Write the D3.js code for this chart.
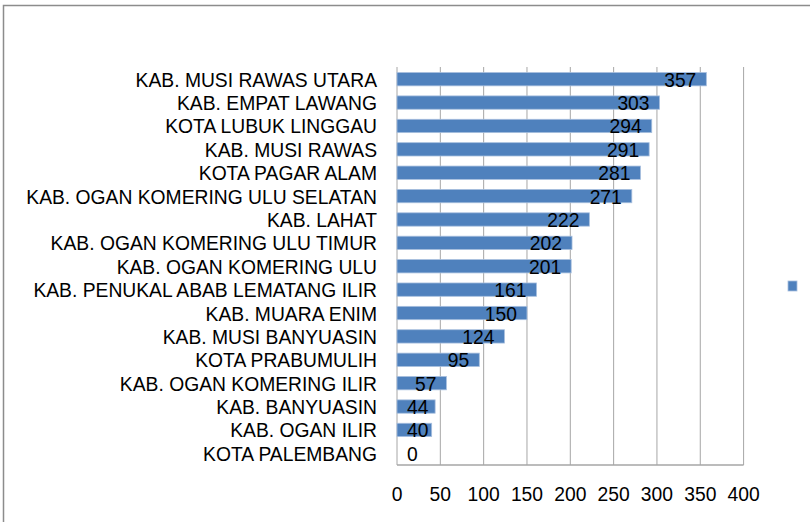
<!DOCTYPE html>
<html>
<head>
<meta charset="utf-8">
<script src="https://cdn.jsdelivr.net/npm/d3@7"></script>
<style>
  body { margin: 0; background: #fff; }
  svg { display: block; font-family: "Liberation Sans", Arial, sans-serif; }
</style>
</head>
<body>
<svg id="chart" width="810" height="522"></svg>
<script>
// Data
const regions = [
  "KAB. MUSI RAWAS UTARA",
  "KAB. EMPAT LAWANG",
  "KOTA LUBUK LINGGAU",
  "KAB. MUSI RAWAS",
  "KOTA PAGAR ALAM",
  "KAB. OGAN KOMERING ULU SELATAN",
  "KAB. LAHAT",
  "KAB. OGAN KOMERING ULU TIMUR",
  "KAB. OGAN KOMERING ULU",
  "KAB. PENUKAL ABAB LEMATANG ILIR",
  "KAB. MUARA ENIM",
  "KAB. MUSI BANYUASIN",
  "KOTA PRABUMULIH",
  "KAB. OGAN KOMERING ILIR",
  "KAB. BANYUASIN",
  "KAB. OGAN ILIR",
  "KOTA PALEMBANG"
];
const counts = [357, 303, 294, 291, 281, 271, 222, 202, 201, 161, 150, 124, 95, 57, 44, 40, 0];
const xTicks = [0, 50, 100, 150, 200, 250, 300, 350, 400];

const svg = d3.select("#chart");
const fontSize = 19.3;
const barColor = "#4f81bd";
const gridColor = "#a6a6a6";

// outer frame (cropped at right/bottom like the reference)
svg.append("rect")
  .attr("x", 3.5).attr("y", 5.5)
  .attr("width", 830).attr("height", 540)
  .attr("fill", "none")
  .attr("stroke", "#8c8c8c")
  .attr("stroke-width", 1.5);

const plot = { left: 397, right: 743.6, top: 67, bottom: 465 };

const x = d3.scaleLinear().domain([0, 400]).range([plot.left, plot.right]);
const y = d3.scaleBand()
  .domain(regions)
  .range([plot.top + 0.5, plot.bottom])
  .paddingInner(0.43)
  .paddingOuter(0.215);

// vertical gridlines
svg.append("g")
  .selectAll("line")
  .data(xTicks)
  .join("line")
  .attr("x1", (d) => x(d)).attr("x2", (d) => x(d))
  .attr("y1", plot.top).attr("y2", plot.bottom)
  .attr("stroke", gridColor)
  .attr("stroke-width", 1);

// bottom axis line
svg.append("line")
  .attr("x1", plot.left).attr("x2", plot.right)
  .attr("y1", plot.bottom).attr("y2", plot.bottom)
  .attr("stroke", gridColor)
  .attr("stroke-width", 1.5);

// bars
svg.append("g")
  .selectAll("rect")
  .data(counts)
  .join("rect")
  .attr("x", x(0))
  .attr("y", (d, i) => y(regions[i]))
  .attr("width", (d) => x(d) - x(0))
  .attr("height", y.bandwidth())
  .attr("fill", barColor)
  .attr("stroke", (d) => (d > 0 ? "#a7bfde" : "none"))
  .attr("stroke-width", 0.8);

// value labels, inside end but kept off the axis
const valueLabels = svg.append("g")
  .selectAll("text")
  .data(counts)
  .join("text")
  .attr("y", (d, i) => y(regions[i]) + y.bandwidth() / 2 + 1)
  .attr("dominant-baseline", "central")
  .attr("font-size", fontSize)
  .attr("fill", "#000")
  .text((d) => d);

valueLabels.each(function (d) {
  const w = this.getComputedTextLength();
  const left = Math.max(x(d) - 10 - w, x(0) + 10);
  d3.select(this).attr("x", left);
});

// category labels
svg.append("g")
  .selectAll("text")
  .data(regions)
  .join("text")
  .attr("x", plot.left - 20)
  .attr("y", (d) => y(d) + y.bandwidth() / 2 + 1)
  .attr("text-anchor", "end")
  .attr("dominant-baseline", "central")
  .attr("font-size", fontSize)
  .attr("fill", "#000")
  .text((d) => d);

// x tick labels
svg.append("g")
  .selectAll("text")
  .data(xTicks)
  .join("text")
  .attr("x", (d) => x(d))
  .attr("y", 494)
  .attr("text-anchor", "middle")
  .attr("dominant-baseline", "central")
  .attr("font-size", fontSize)
  .attr("fill", "#000")
  .text((d) => d);

// legend marker (series has no name)
svg.append("rect")
  .attr("x", 788).attr("y", 281)
  .attr("width", 9).attr("height", 10)
  .attr("fill", barColor)
  .attr("stroke", "#a7bfde")
  .attr("stroke-width", 0.8);
</script>
</body>
</html>
